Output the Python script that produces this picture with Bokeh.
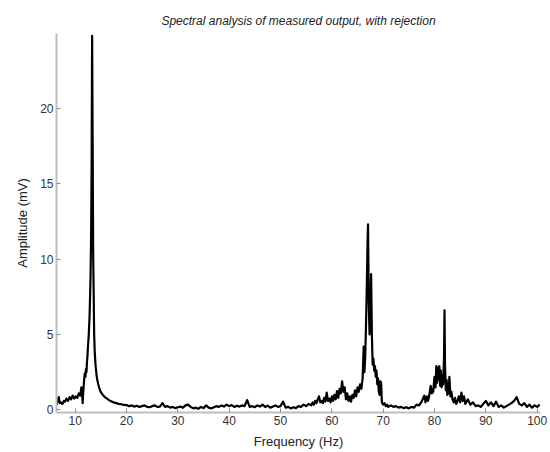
from bokeh.plotting import figure
from bokeh.models import Range1d, FixedTicker
from bokeh.embed import file_html
from bokeh.resources import INLINE

# Frequency samples (Hz)
freq = [
    6.4, 6.6, 6.8, 7.0, 7.2, 7.5, 7.8, 8.0, 8.3, 8.6, 8.9, 9.2, 9.5, 9.8, 10.1, 10.4, 10.7, 11.0,
    11.2, 11.35, 11.45, 11.55, 11.7, 11.85, 12.0, 12.1, 12.2, 12.3,
    12.4, 12.5, 12.6, 12.7, 12.8, 12.9, 13.0, 13.1, 13.2, 13.3, 13.4, 13.5, 13.6, 13.7, 13.8, 13.9,
    14.0, 14.15, 14.3, 14.5, 14.7, 14.9, 15.2, 15.5, 15.8, 16.2, 16.6, 17.0, 17.5, 18.0, 18.5, 19.0, 19.5,
    20.0, 20.5, 21.0, 21.5, 22.0, 22.5, 23.0, 23.5, 24.0, 24.5, 25.0, 25.5, 26.0, 26.5, 27.0, 27.5,
    28.0, 28.5, 29.0, 29.5, 30.0, 30.5, 31.0, 31.5, 32.0, 32.5, 33.0, 33.5, 34.0, 34.5, 35.0, 35.5,
    36.0, 36.5, 37.0, 37.5, 38.0, 38.5, 39.0, 39.5, 40.0, 40.5, 41.0, 41.5, 42.0, 42.5, 43.0, 43.5,
    44.0, 44.5, 45.0, 45.5, 46.0, 46.5, 47.0, 47.5, 48.0, 48.5, 49.0, 49.5, 50.0, 50.5, 51.0, 51.5,
    52.0, 52.5, 53.0, 53.5, 54.0, 54.5, 55.0, 55.5, 56.0,
    56.25, 56.5, 56.75, 57.0, 57.25, 57.5, 57.75, 58.0, 58.25, 58.5, 58.75, 59.0, 59.25, 59.5, 59.75,
    60.0, 60.25, 60.5, 60.75, 61.0, 61.25, 61.5, 61.75, 62.0, 62.25, 62.5, 62.75, 63.0, 63.25, 63.5,
    63.75, 64.0, 64.25, 64.5, 64.75, 65.0, 65.25, 65.5, 65.75, 66.0, 66.2, 66.35, 66.5, 66.65, 66.8,
    66.95, 67.05, 67.2, 67.35, 67.5, 67.65, 67.8, 67.95, 68.1, 68.25, 68.4, 68.55, 68.7, 68.85, 69.0,
    69.15, 69.3, 69.45, 69.6, 69.75, 70.0, 70.25, 70.5, 70.75, 71.0, 71.5, 72.0,
    72.5, 73.0, 73.5, 74.0, 74.5, 75.0, 75.5, 76.0, 76.5, 77.0, 77.5, 78.0,
    78.25, 78.5, 78.75, 79.0, 79.25, 79.5, 79.75, 80.0, 80.2, 80.35, 80.5, 80.65, 80.8, 80.95, 81.1,
    81.25, 81.4, 81.55, 81.7, 81.85, 81.95, 82.05, 82.2, 82.35, 82.5, 82.65, 82.75, 82.9, 83.1, 83.3,
    83.5, 83.75, 84.0, 84.25, 84.5, 84.75, 85.0, 85.25, 85.5, 85.75, 86.0,
    86.5, 87.0, 87.5, 88.0, 88.5, 89.0, 89.5, 90.0, 90.5, 91.0, 91.5, 92.0, 92.5, 93.0, 93.5, 94.0,
    94.5, 95.0, 95.5, 96.0, 96.5, 97.0, 97.5, 98.0, 98.5, 99.0, 99.5, 100.0, 100.5,
]

# Amplitude readings (mV)
amp = [
    0.35, 0.6, 0.85, 0.45, 0.5, 0.4, 0.6, 0.55, 0.75, 0.6, 0.85, 0.7, 0.95, 0.75, 0.9, 0.8, 1.1, 0.95,
    1.5, 1.2, 0.45, 1.1, 1.8, 2.4, 2.2, 2.7, 2.5, 3.2,
    3.6, 4.3, 4.7, 5.4, 6.2, 7.5, 9.0, 11.5, 16.0, 24.8, 18.0, 10.5, 7.8, 5.0, 3.9, 3.3,
    2.85, 2.35, 2.0, 1.7, 1.45, 1.25, 1.08, 0.95, 0.85, 0.75, 0.65, 0.58, 0.5, 0.45, 0.4, 0.38, 0.33,
    0.32, 0.25, 0.3, 0.22, 0.28, 0.2, 0.25, 0.3, 0.2, 0.18, 0.25, 0.3, 0.2, 0.22, 0.45, 0.2,
    0.25, 0.15, 0.2, 0.12, 0.18, 0.22, 0.15, 0.3, 0.35, 0.2, 0.1, 0.15, 0.08, 0.2, 0.12, 0.3,
    0.15, 0.1, 0.18, 0.25, 0.2, 0.3, 0.22, 0.35, 0.25, 0.32, 0.2, 0.28, 0.22, 0.3, 0.25, 0.65,
    0.2, 0.25, 0.18, 0.3, 0.22, 0.35, 0.2, 0.28, 0.15, 0.22, 0.3, 0.2, 0.25, 0.55, 0.15, 0.2,
    0.1, 0.18, 0.12, 0.25, 0.2, 0.35, 0.25, 0.4, 0.3,
    0.5, 0.35, 0.6, 0.45, 0.7, 0.9, 0.5, 0.6, 0.45, 0.8, 0.55, 1.15, 0.6, 0.75, 0.5,
    0.9, 0.6, 1.0, 0.7, 1.25, 0.8, 1.4, 1.1, 1.9, 1.2, 1.5, 0.7, 1.1, 0.6, 0.9,
    0.55, 1.0, 0.8, 1.3, 0.9, 1.5, 1.2, 1.7, 1.4, 2.1, 4.2, 2.5, 3.5, 5.5, 8.0,
    11.0, 12.3, 7.0, 5.0, 6.5, 9.0, 5.0, 3.0, 3.4, 2.6, 2.9, 2.2, 2.6, 1.7, 2.1,
    1.2, 1.0, 1.9, 1.8, 0.5, 0.35, 0.45, 0.25, 0.35, 0.2, 0.3, 0.2,
    0.25, 0.15, 0.2, 0.12, 0.18, 0.1, 0.2, 0.15, 0.35, 0.3, 0.55, 0.95,
    0.5, 0.9, 0.6, 1.0, 1.6, 1.1, 1.2, 2.2, 1.5, 2.9, 1.8, 2.8, 2.0, 2.9, 1.6,
    2.6, 1.5, 2.3, 1.7, 3.5, 6.6, 3.0, 1.3, 2.0, 1.0, 1.8, 1.1, 2.2, 0.9, 1.2,
    0.7, 0.5, 0.8, 0.4, 0.6, 0.9, 0.5, 1.15, 0.6, 0.9, 0.4,
    0.7, 0.35, 0.5, 0.25, 0.3, 0.2, 0.4, 0.6, 0.3, 0.5, 0.25, 0.55, 0.2, 0.3, 0.15, 0.25,
    0.35, 0.45, 0.6, 0.85, 0.4, 0.3, 0.45, 0.2, 0.35, 0.15, 0.3, 0.2, 0.35,
]

x_ticks = [10, 20, 30, 40, 50, 60, 70, 80, 90, 100]
y_ticks = [0, 5, 10, 15, 20]

FONT = "Liberation Sans"

p = figure(
    width=548, height=452,
    output_backend="svg", toolbar_location=None,
    x_range=Range1d(6.36, 100.65), y_range=Range1d(-0.17, 24.95),
    min_border_left=56, min_border_right=8, min_border_top=33, min_border_bottom=40,
)
p.title.text = "Spectral analysis of measured output, with rejection"
p.title.align = "center"
p.title.text_font = FONT
p.title.text_font_style = "italic"
p.title.text_font_size = "12px"
p.title.text_color = "#222222"
p.title.standoff = 11

p.line(freq, amp, line_color="black", line_width=2.2, line_join="round")

p.xgrid.visible = False
p.ygrid.visible = False
p.outline_line_color = None
p.background_fill_color = "white"
p.border_fill_color = "white"

p.xaxis.ticker = FixedTicker(ticks=x_ticks)
p.yaxis.ticker = FixedTicker(ticks=y_ticks)
p.xaxis.axis_label = "Frequency (Hz)"
p.yaxis.axis_label = "Amplitude (mV)"

for ax in (p.xaxis, p.yaxis):
    ax.axis_line_color = "#bdbdbd"
    ax.axis_line_width = 2
    ax.major_tick_line_color = "#8a8a8a"
    ax.major_tick_in = 4
    ax.major_tick_out = 0
    ax.minor_tick_line_color = None
    ax.major_label_text_font = FONT
    ax.major_label_text_font_size = "12px"
    ax.major_label_text_color = "#333333"
    ax.axis_label_text_font = FONT
    ax.axis_label_text_font_size = "13px"
    ax.axis_label_text_font_style = "normal"
    ax.axis_label_text_color = "#222222"
    ax.major_label_standoff = 3

p.xaxis.axis_label_standoff = 6
p.yaxis.axis_label_standoff = 7

open("out.html", "w").write(file_html(p, INLINE))
